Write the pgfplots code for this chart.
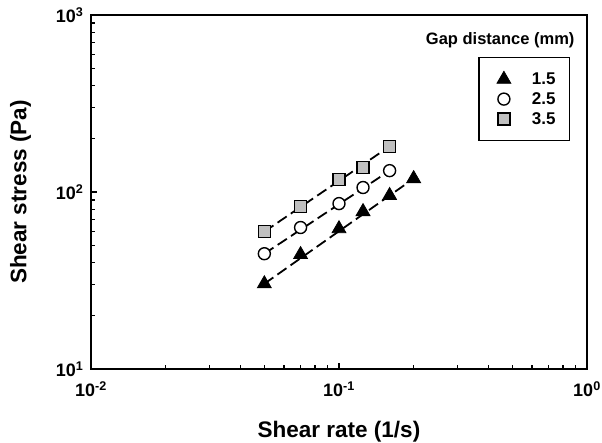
\documentclass[border=0pt]{standalone}
\usepackage{fontspec}
\setmainfont{Liberation Sans}
\usepackage{pgfplots}
\pgfplotsset{compat=1.18}
\definecolor{sqgray}{HTML}{C0C0C0}
\begin{document}
\begin{tikzpicture}
\begin{axis}[
  name=ax,
  xmode=log, ymode=log,
  xmin=0.01, xmax=1, ymin=10, ymax=1000,
  scale only axis, width=496pt, height=354pt,
  axis line style={line width=1.6pt},
  tick align=inside, xtick pos=bottom, ytick pos=left,
  major tick length=6pt, minor tick length=4pt,
  every tick/.style={black, line width=1.2pt},
  xtick={0.01,0.1,1},
  xticklabels={10\textsuperscript{-2},10\textsuperscript{-1},10\textsuperscript{0}},
  minor xtick={0.02,0.03,0.04,0.05,0.06,0.07,0.08,0.09,0.2,0.3,0.4,0.5,0.6,0.7,0.8,0.9},
  ytick={10,100,1000},
  yticklabels={10\textsuperscript{1},10\textsuperscript{2},10\textsuperscript{3}},
  minor ytick={20,30,40,50,60,70,80,90,200,300,400,500,600,700,800,900},
  ticklabel style={font=\bfseries\fontsize{18}{21}\selectfont},
  xticklabel style={yshift=-9pt},
  yticklabel style={xshift=-4pt},
  xlabel={Shear rate (1/s)}, ylabel={Shear stress (Pa)},
  label style={font=\bfseries\fontsize{22.5}{26}\selectfont},
  xlabel style={yshift=-18pt},
  ylabel style={yshift=18pt},
  legend cell align=left,
  legend image code/.code={\path[draw=none,fill=none] (-13pt,-8pt) rectangle (9pt,8pt); \draw[#1] plot coordinates {(0pt,0pt)};},
  legend style={at={(0.966,0.881)}, anchor=north east, draw=black, line width=1.2pt,
    font=\bfseries\fontsize{17}{20}\selectfont, inner xsep=12pt, inner ysep=13pt, row sep=2.5pt,
    /tikz/every odd column/.append style={column sep=17pt}},
]
% dashed fit lines
\addplot[forget plot, black, line width=1.8pt, dash pattern=on 11pt off 5pt] coordinates {(0.05,30.3)(0.2,119)};
\addplot[forget plot, black, line width=1.8pt, dash pattern=on 11pt off 5pt] coordinates {(0.05,44.8)(0.16,132)};
\addplot[forget plot, black, line width=1.8pt, dash pattern=on 11pt off 5pt] coordinates {(0.05,59.7)(0.16,181)};
% data
\addplot[only marks, mark=triangle*, mark size=8pt, mark options={fill=black, draw=black, line width=0.8pt}]
  coordinates {(0.05,30.3)(0.07,44.3)(0.1,62)(0.125,77.5)(0.16,95.5)(0.2,119)};
\addplot[only marks, mark=*, mark size=6pt, mark options={fill=white, draw=black, line width=1.4pt}]
  coordinates {(0.05,44.8)(0.07,63)(0.1,86)(0.125,106)(0.16,132)};
\addplot[only marks, mark=square*, mark size=6pt, mark options={fill=sqgray, draw=black, line width=1.4pt}]
  coordinates {(0.05,59.7)(0.07,82.7)(0.1,117.7)(0.125,137.6)(0.16,181)};
\legend{1.5,2.5,3.5}
\node[font=\bfseries\fontsize{16.5}{19}\selectfont] at (rel axis cs:0.825,0.929) {Gap distance (mm)};
\end{axis}
\pgfresetboundingbox
\path ([shift={(-91pt,-74pt)}]ax.south west) rectangle ([shift={(15pt,15pt)}]ax.north east);
\end{tikzpicture}
\end{document}
